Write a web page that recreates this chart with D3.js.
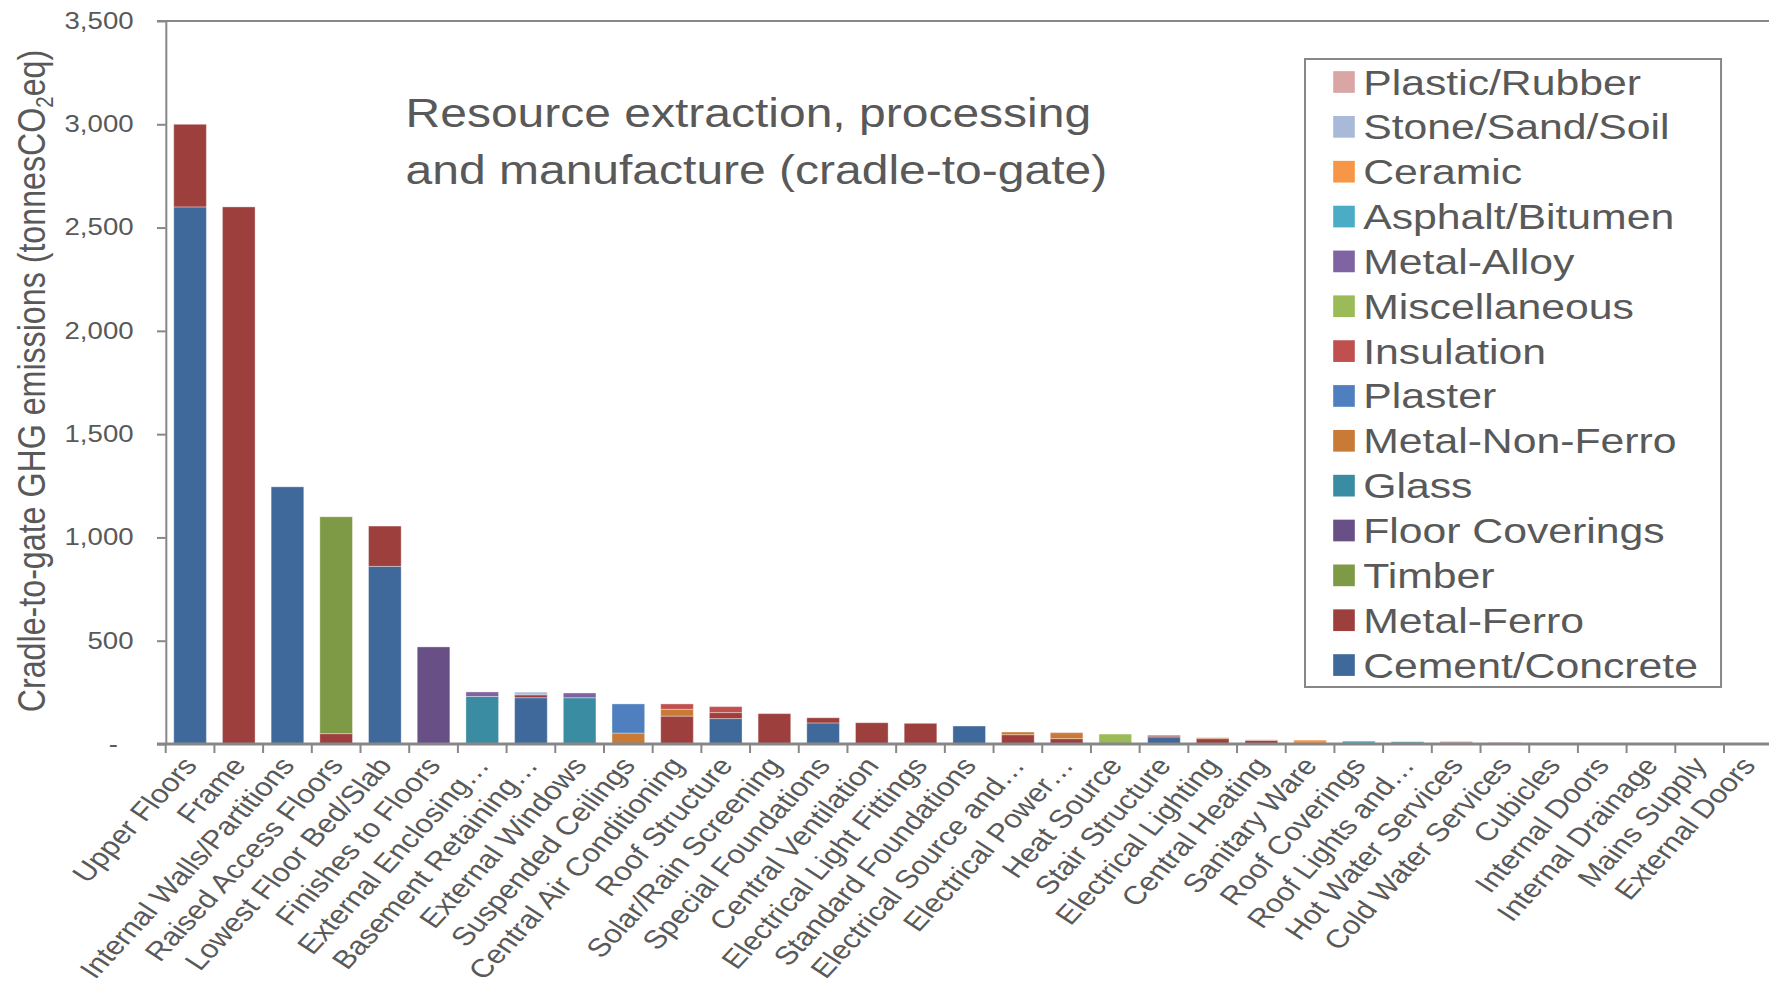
<!DOCTYPE html>
<html>
<head>
<meta charset="utf-8">
<script src="https://cdn.jsdelivr.net/npm/d3@7"></script>
<style>
  html, body { margin: 0; padding: 0; background: #fff; }
  svg { display: block; }
  text { font-family: "Liberation Sans", Arial, sans-serif; fill: #595959; }
</style>
</head>
<body>
<script>
// Building elements (x categories)
const categories = [
  "Upper Floors", "Frame", "Internal Walls/Partitions", "Raised Access Floors",
  "Lowest Floor Bed/Slab", "Finishes to Floors", "External Enclosing\u2026",
  "Basement Retaining\u2026", "External Windows", "Suspended Ceilings",
  "Central Air Conditioning", "Roof Structure", "Solar/Rain Screening",
  "Special Foundations", "Central Ventilation", "Electrical Light Fittings",
  "Standard Foundations", "Electrical Source and\u2026", "Electrical Power\u2026",
  "Heat Source", "Stair Structure", "Electrical Lighting", "Central Heating",
  "Sanitary Ware", "Roof Coverings", "Roof Lights and\u2026", "Hot Water Services",
  "Cold Water Services", "Cubicles", "Internal Doors", "Internal Drainage",
  "Mains Supply", "External Doors"
];

// Emissions per material (tonnes CO2eq), one value per building element
const cementConcrete = [2600,0,1245,0,860,0,0,224,0,0,0,123,0,102,0,0,87,0,0,0,34,0,0,0,0,0,0,0,0,0,0,0,0];
const metalFerro     = [400,2600,0,50,195,0,0,14,0,0,135,29,147,25,103,100,0,45,26,0,5,26,17,0,0,0,0,0,0,0,0,0,0];
const timber         = [0,0,0,1050,0,0,0,0,0,0,0,0,0,0,0,0,0,0,0,0,0,0,0,0,0,0,0,0,0,0,0,0,0];
const floorCoverings = [0,0,0,0,0,470,0,0,0,0,0,0,0,0,0,0,0,0,0,0,0,0,0,0,0,0,0,0,0,0,0,0,0];
const glass          = [0,0,0,0,0,0,230,0,224,0,0,0,0,0,0,0,0,0,0,0,0,0,0,0,0,10,0,0,0,0,0,0,0];
const metalNonFerro  = [0,0,0,0,0,0,0,0,0,53,33,0,0,0,0,0,0,13,29,0,0,5,0,0,0,0,0,0,0,0,0,0,0];
const plaster        = [0,0,0,0,0,0,0,0,0,141,0,0,0,0,0,0,0,0,0,0,0,0,0,0,0,0,0,0,0,0,0,0,0];
const insulation     = [0,0,0,0,0,0,0,0,0,0,26,29,0,0,0,0,0,0,0,0,4,0,3,0,0,0,3,0,0,0,0,0,0];
const miscellaneous  = [0,0,0,0,0,0,0,0,0,0,0,0,0,0,0,0,0,0,0,48,0,0,0,0,0,0,0,0,0,0,0,0,0];
const metalAlloy     = [0,0,0,0,0,0,22,0,23,0,0,0,0,0,0,0,0,0,0,0,0,0,0,0,0,0,0,0,0,0,0,0,0];
const asphaltBitumen = [0,0,0,0,0,0,0,0,0,0,0,0,0,0,0,0,0,0,0,0,0,0,0,0,14,0,0,0,0,0,0,0,0];
const ceramic        = [0,0,0,0,0,0,0,0,0,0,0,0,0,0,0,0,0,0,0,0,0,0,0,19,0,0,0,0,0,0,0,0,0];
const stoneSandSoil  = [0,0,0,0,0,0,0,13,0,0,0,0,0,0,0,0,0,0,0,0,0,0,0,0,0,3,0,0,0,0,0,0,0];
const plasticRubber  = [0,0,0,0,0,0,0,0,0,0,0,0,0,0,0,0,0,0,3,0,0,2,0,0,0,0,10,8,0,0,0,0,0];

// Series in stacking order (bottom to top)
const seriesNames = [
  "Cement/Concrete", "Metal-Ferro", "Timber", "Floor Coverings", "Glass",
  "Metal-Non-Ferro", "Plaster", "Insulation", "Miscellaneous", "Metal-Alloy",
  "Asphalt/Bitumen", "Ceramic", "Stone/Sand/Soil", "Plastic/Rubber"
];
const seriesValues = [
  cementConcrete, metalFerro, timber, floorCoverings, glass, metalNonFerro,
  plaster, insulation, miscellaneous, metalAlloy, asphaltBitumen, ceramic,
  stoneSandSoil, plasticRubber
];
const seriesColors = [
  "#3F689B", "#9D3F3D", "#7F9A47", "#684F86", "#3A8CA2", "#C97A37", "#4F7FBE",
  "#C0504D", "#9BBB59", "#8064A2", "#4BACC6", "#F79646", "#A8BAD8", "#D9A6A5"
];

const yTicks = [0, 500, 1000, 1500, 2000, 2500, 3000, 3500];
const yTitle = ["Cradle-to-gate GHG emissions (tonnesCO", "2", "eq)"];
const titleLines = ["Resource extraction, processing", "and manufacture (cradle-to-gate)"];

// The drawing is laid out in a narrower coordinate space and widened horizontally.
const W = 1769, H = 987, stretch = 1.2;
const VW = W / stretch;

const svg = d3.select("body").append("svg")
  .attr("width", W).attr("height", H)
  .attr("viewBox", `0 0 ${VW} ${H}`)
  .attr("preserveAspectRatio", "none");

const axisColor = "#878787";
const left = 138.1, step = 40.58;

const x = d3.scaleBand()
  .domain(categories)
  .range([left, left + step * categories.length])
  .paddingInner(0.33)
  .paddingOuter(0.165);

const y = d3.scaleLinear().domain([0, 3500]).range([744, 21]);

// Stack the material series
const rows = categories.map((c, i) => {
  const r = { category: c };
  seriesNames.forEach((s, k) => { r[s] = seriesValues[k][i]; });
  return r;
});
const stacked = d3.stack().keys(seriesNames)(rows);
const color = d3.scaleOrdinal().domain(seriesNames).range(seriesColors);

// Top border line at the axis maximum
svg.append("line")
  .attr("x1", left - 7.3).attr("x2", VW)
  .attr("y1", y(3500)).attr("y2", y(3500))
  .attr("stroke", axisColor).attr("stroke-width", 2)
  .attr("vector-effect", "non-scaling-stroke");

// Bars
svg.append("g").selectAll("g")
  .data(stacked)
  .join("g")
  .attr("fill", d => color(d.key))
  .selectAll("rect")
  .data(d => d.filter(p => p[1] - p[0] > 0))
  .join("rect")
  .attr("x", d => x(d.data.category))
  .attr("width", x.bandwidth())
  .attr("y", d => y(d[1]))
  .attr("height", d => y(d[0]) - y(d[1]))
  .attr("stroke", "#ffffff")
  .attr("stroke-opacity", 0.35)
  .attr("stroke-width", 1)
  .attr("vector-effect", "non-scaling-stroke");

// Y axis
const yAxis = d3.axisLeft(y)
  .tickValues(yTicks)
  .tickSize(7.3)
  .tickSizeOuter(0)
  .tickPadding(19.5)
  .tickFormat(d => d === 0 ? "-" : d3.format(",")(d));

const gy = svg.append("g")
  .attr("transform", `translate(${left},0)`)
  .call(yAxis);
gy.select(".domain").attr("stroke", axisColor).attr("stroke-width", 2)
  .attr("vector-effect", "non-scaling-stroke");
gy.selectAll(".tick line").attr("stroke", axisColor).attr("stroke-width", 2)
  .attr("vector-effect", "non-scaling-stroke");
gy.selectAll(".tick text")
  .attr("font-size", 23)
  .attr("fill", "#595959")
  .attr("font-family", "Liberation Sans, Arial, sans-serif")
  .attr("dx", d => d === 0 ? -13 : 0);

// X axis line and category boundary ticks
const x0 = x.range()[0];
svg.append("line")
  .attr("x1", left - 7.3).attr("x2", VW)
  .attr("y1", y(0)).attr("y2", y(0))
  .attr("stroke", axisColor).attr("stroke-width", 3)
  .attr("vector-effect", "non-scaling-stroke");
svg.append("g").selectAll("line")
  .data(d3.range(categories.length + 1))
  .join("line")
  .attr("x1", i => x0 + i * x.step()).attr("x2", i => x0 + i * x.step())
  .attr("y1", y(0)).attr("y2", y(0) + 9)
  .attr("stroke", axisColor).attr("stroke-width", 2)
  .attr("vector-effect", "non-scaling-stroke");

// Category labels, rotated
svg.append("g").selectAll("text")
  .data(categories)
  .join("text")
  .attr("transform", d => `translate(${x(d) + x.bandwidth() / 2 + 7},${y(0) + 22}) rotate(-52)`)
  .attr("text-anchor", "end")
  .attr("font-size", 26)
  .text(d => d);

// Y axis title
const yt = svg.append("text")
  .attr("transform", `translate(37.5,381) rotate(-90)`)
  .attr("text-anchor", "middle")
  .attr("font-size", 32.2);
yt.append("tspan").text(yTitle[0]);
yt.append("tspan").attr("font-size", 20.5).attr("dy", 7).text(yTitle[1]);
yt.append("tspan").attr("dy", -7).text(yTitle[2]);

// Chart title
svg.append("g").selectAll("text")
  .data(titleLines)
  .join("text")
  .attr("x", 338)
  .attr("y", (d, i) => 127.5 + i * 57)
  .attr("font-size", 40)
  .text(d => d);

// Legend (listed top-down in reverse stacking order)
const legendItems = seriesNames.slice().reverse();
const lg = svg.append("g");
lg.append("rect")
  .attr("x", 1087.5).attr("y", 59)
  .attr("width", 1434.2 - 1087.5).attr("height", 687 - 59)
  .attr("fill", "#fff")
  .attr("stroke", axisColor).attr("stroke-width", 2)
  .attr("vector-effect", "non-scaling-stroke");
const li = lg.selectAll("g.item")
  .data(legendItems)
  .join("g")
  .attr("class", "item")
  .attr("transform", (d, i) => `translate(0,${82 + i * 44.85})`);
li.append("rect")
  .attr("x", 1111).attr("y", -10.85)
  .attr("width", 18).attr("height", 21.7)
  .attr("fill", d => color(d));
li.append("text")
  .attr("x", 1136).attr("y", 12.5)
  .attr("font-size", 35.6)
  .text(d => d);
</script>
</body>
</html>
